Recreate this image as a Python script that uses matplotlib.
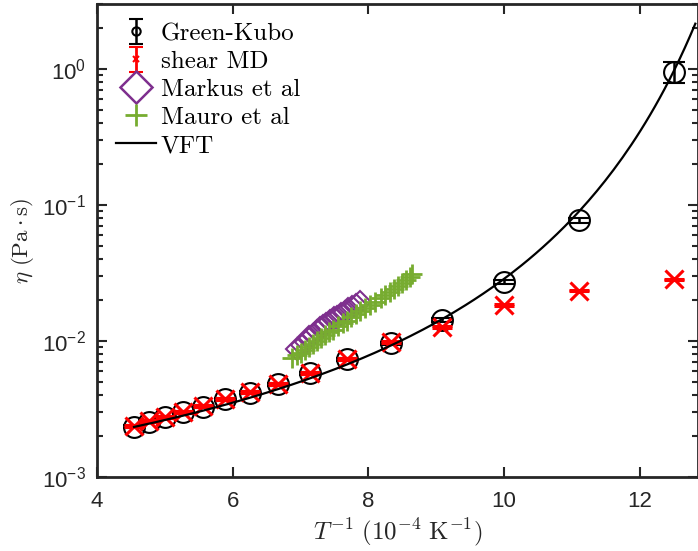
import numpy as np
import matplotlib
matplotlib.use('Agg')
import matplotlib.pyplot as plt

plt.rcParams['mathtext.fontset'] = 'cm'
plt.rcParams['font.family'] = ['Liberation Sans', 'DejaVu Sans']

# Green-Kubo viscosity (x = 10^4 / T)
gk_x = [4.545, 4.762, 5.0, 5.263, 5.556, 5.882, 6.25, 6.667, 7.143, 7.692, 8.333, 9.091, 10.0, 11.111, 12.5]
gk_eta = [0.00234, 0.00255, 0.00275, 0.00299, 0.00329, 0.00373, 0.00417, 0.00483, 0.00578, 0.00733, 0.0096, 0.0143, 0.0272, 0.077, 0.95]
gk_err = [0.00006, 0.00006, 0.00007, 0.00008, 0.00009, 0.0001, 0.0001, 0.00012, 0.00015, 0.0002, 0.0003, 0.0004, 0.0008, 0.003, 0.17]

# shear MD
md_x = gk_x
md_eta = [0.00236, 0.00257, 0.00277, 0.00300, 0.00331, 0.00375, 0.00420, 0.00485, 0.00585, 0.00740, 0.0098, 0.0127, 0.0184, 0.0234, 0.0284]
md_err = [0.00004, 0.00004, 0.00005, 0.00005, 0.00006, 0.00006, 0.00007, 0.00008, 0.0001, 0.00012, 0.00015, 0.0002, 0.0002, 0.0002, 0.0003]

# Markus et al
markus_x = [6.95, 7.02, 7.08, 7.12, 7.18, 7.24, 7.28, 7.33, 7.38, 7.44, 7.49, 7.54, 7.59, 7.65, 7.70, 7.76, 7.82, 7.88]
markus_eta = [0.0088, 0.0094, 0.0099, 0.0107, 0.0110, 0.0118, 0.0124, 0.0128, 0.0134, 0.0140, 0.0147, 0.0151, 0.0158, 0.0164, 0.0171, 0.0177, 0.0185, 0.0193]

# Mauro et al
mauro_x = [6.88, 6.95, 7.00, 7.06, 7.12, 7.18, 7.24, 7.30, 7.36, 7.42, 7.48, 7.55, 7.62, 7.68, 7.75,
           7.82, 7.88, 7.95, 8.02, 8.10, 8.18, 8.25, 8.32, 8.38, 8.44, 8.50, 8.56, 8.62, 8.65]
mauro_eta = [0.0075, 0.0079, 0.0082, 0.0086, 0.0091, 0.0095, 0.0100, 0.0105, 0.0110, 0.0116, 0.0121, 0.0128, 0.0135, 0.0141, 0.0149,
             0.0157, 0.0165, 0.0174, 0.0183, 0.0195, 0.0207, 0.0218, 0.0230, 0.0242, 0.0255, 0.0268, 0.0282, 0.0297, 0.0310]

# VFT fit: ln(eta) = lnA + B / (T - T0)
vft_lnA = -6.87
vft_B = 1290.0
vft_T0 = 611.0
vft_T = np.linspace(2200, 780, 300)
vft_x = 1e4 / vft_T
vft_eta = np.exp(vft_lnA + vft_B / (vft_T - vft_T0))

fig = plt.figure(figsize=(6.98, 5.51), dpi=100)
ax = fig.add_axes([0.139, 0.134, 0.861, 0.859])

ax.errorbar(gk_x, gk_eta, yerr=gk_err, fmt='o', color='black', mfc='none', ms=15, mew=1.5,
            elinewidth=1.8, capsize=8, capthick=2.2, zorder=3)
ax.errorbar(md_x, md_eta, yerr=md_err, fmt='x', color='red', ms=13, mew=2.2,
            elinewidth=2, capsize=7, capthick=2.5, zorder=4)
ax.plot(markus_x, markus_eta, 'D', color='#7E2F8E', mfc='none', ms=11.5, mew=1.5, zorder=5)
ax.plot(mauro_x, mauro_eta, '+', color='#77AC30', ms=14, mew=2, zorder=6)
ax.plot(vft_x, vft_eta, '-', color='black', lw=1.6, zorder=7)

# legend proxies (smaller markers, as in the original legend)
h1 = ax.errorbar([np.nan], [np.nan], yerr=[np.nan], fmt='o', color='black', mfc='none', ms=6, mew=1.5,
                 elinewidth=1.8, capsize=5, capthick=2)
h2 = ax.errorbar([np.nan], [np.nan], yerr=[np.nan], fmt='x', color='red', ms=4, mew=1.5,
                 elinewidth=2, capsize=5, capthick=2)
h3, = ax.plot([], [], 'D', color='#7E2F8E', mfc='none', ms=16, mew=1.8)
h4, = ax.plot([], [], '+', color='#77AC30', ms=16, mew=2)
h5, = ax.plot([], [], '-', color='black', lw=1.6)
leg = ax.legend([h1, h2, h3, h4, h5], ['Green-Kubo', 'shear MD', 'Markus et al', 'Mauro et al', 'VFT'],
                loc='upper left', frameon=False, prop={'family': 'cmr10', 'size': 18},
                handlelength=1.6, handletextpad=0.2, labelspacing=0.22,
                borderaxespad=0.35, bbox_to_anchor=(0.0, 1.0))

ax.set_yscale('log')
ax.set_xlim(4, 12.86)
ax.set_ylim(1e-3, 3)
ax.set_xticks([4, 6, 8, 10, 12])
ax.set_yticks([1e-3, 1e-2, 1e-1, 1e0])

ax.set_xlabel(r'$T^{-1}\ (10^{-4}\ \mathrm{K}^{-1})$', fontsize=18, color='#262626', labelpad=3)
ax.set_ylabel(r'$\eta\ (\mathrm{Pa}\cdot\mathrm{s})$', fontsize=16.5, color='#262626', labelpad=4)

ax.tick_params(which='both', direction='in', top=True, right=True, colors='#262626',
               labelsize=16, width=1.5)
ax.tick_params(which='major', length=7)
ax.tick_params(axis='x', which='major', pad=10)
ax.tick_params(axis='y', which='major', pad=8)
ax.tick_params(which='minor', length=4)
ax.tick_params(axis='x', which='minor', bottom=False, top=False)
for sp in ax.spines.values():
    sp.set_linewidth(2)
    sp.set_color('#262626')

fig.savefig('out.png', dpi=100)
